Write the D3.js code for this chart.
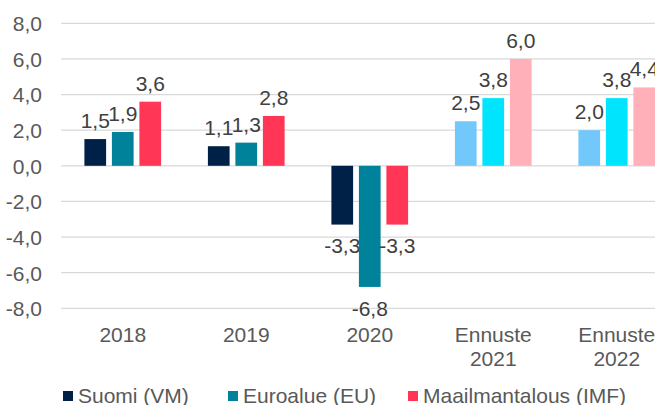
<!DOCTYPE html>
<html><head><meta charset="utf-8">
<script src="https://cdn.jsdelivr.net/npm/d3@7"></script>
<style>body{margin:0;background:#fff;overflow:hidden}svg{display:block}</style>
</head><body>
<svg id="c" width="655" height="405"></svg>
<script>
const categories = [["2018"],["2019"],["2020"],["Ennuste","2021"],["Ennuste","2022"]];
const forecast = [false,false,false,true,true];
const seriesNames = ["Suomi (VM)","Euroalue (EU)","Maailmantalous (IMF)"];
const suomi = [1.5,1.1,-3.3,2.5,2.0];
const euroalue = [1.9,1.3,-6.8,3.8,3.8];
const maailma = [3.6,2.8,-3.3,6.0,4.4];
const colorsActual = ["#002147","#00829b","#ff3655"];
const colorsForecast = ["#72c8fb","#00e5fd","#ffb0b9"];
const yTicks = [-8,-6,-4,-2,0,2,4,6,8];

const series = [suomi, euroalue, maailma];
const svg = d3.select("#c");
const font = "'Liberation Sans', Arial, sans-serif";
const fs = 21;

const y = d3.scaleLinear().domain([-8,8]).range([308.3,23.3]);
const x = d3.scaleBand().domain(d3.range(categories.length)).range([61,678.5]).paddingInner(0).paddingOuter(0);
const step = 27.5, bw = 21.7;
const fmt = v => d3.format(".1f")(v).replace(".",",").replace("−","-");

// gridlines
svg.append("g").selectAll("line").data(yTicks).join("line")
  .attr("x1",61).attr("x2",679).attr("y1",d=>y(d)).attr("y2",d=>y(d))
  .attr("stroke","#d9d9d9").attr("stroke-width",1.3);
// y labels
const yAxis = d3.axisLeft(y).tickValues(yTicks).tickSize(0).tickFormat(fmt);
const ga = svg.append("g").attr("transform","translate(42,0)").call(yAxis);
ga.select(".domain").remove();
ga.selectAll("text").attr("font-family",font).attr("font-size",fs).attr("fill","#595959").attr("x",0).attr("dy","0.35em");

// bars
categories.forEach((cat,i) => {
  const cx = x(i) + x.bandwidth()/2;
  series.forEach((s,j) => {
    const v = s[i];
    const bx = cx + (j-1)*step - bw/2;
    const col = forecast[i] ? colorsForecast[j] : colorsActual[j];
    svg.append("rect").attr("x",bx).attr("width",bw)
      .attr("y",y(Math.max(0,v))).attr("height",Math.abs(y(v)-y(0)))
      .attr("fill",col);
    svg.append("text").attr("x",bx+bw/2)
      .attr("y", v>=0 ? y(v)-11 : y(v)+28.7)
      .attr("text-anchor","middle").attr("font-family",font).attr("font-size",fs).attr("fill","#404040")
      .text(fmt(v));
  });
  cat.forEach((line,k) => {
    svg.append("text").attr("x",cx).attr("y",341.7+k*24).attr("text-anchor","middle")
      .attr("font-family",font).attr("font-size",fs).attr("fill","#595959").text(line);
  });
});

// legend
const legX = [63,228,408];
seriesNames.forEach((n,j) => {
  svg.append("rect").attr("x",legX[j]).attr("y",391).attr("width",10).attr("height",10).attr("fill",colorsActual[j]);
  svg.append("text").attr("x",legX[j]+15).attr("y",403).attr("font-family",font).attr("font-size",fs).attr("fill","#595959").text(n);
});
</script>
</body></html>
